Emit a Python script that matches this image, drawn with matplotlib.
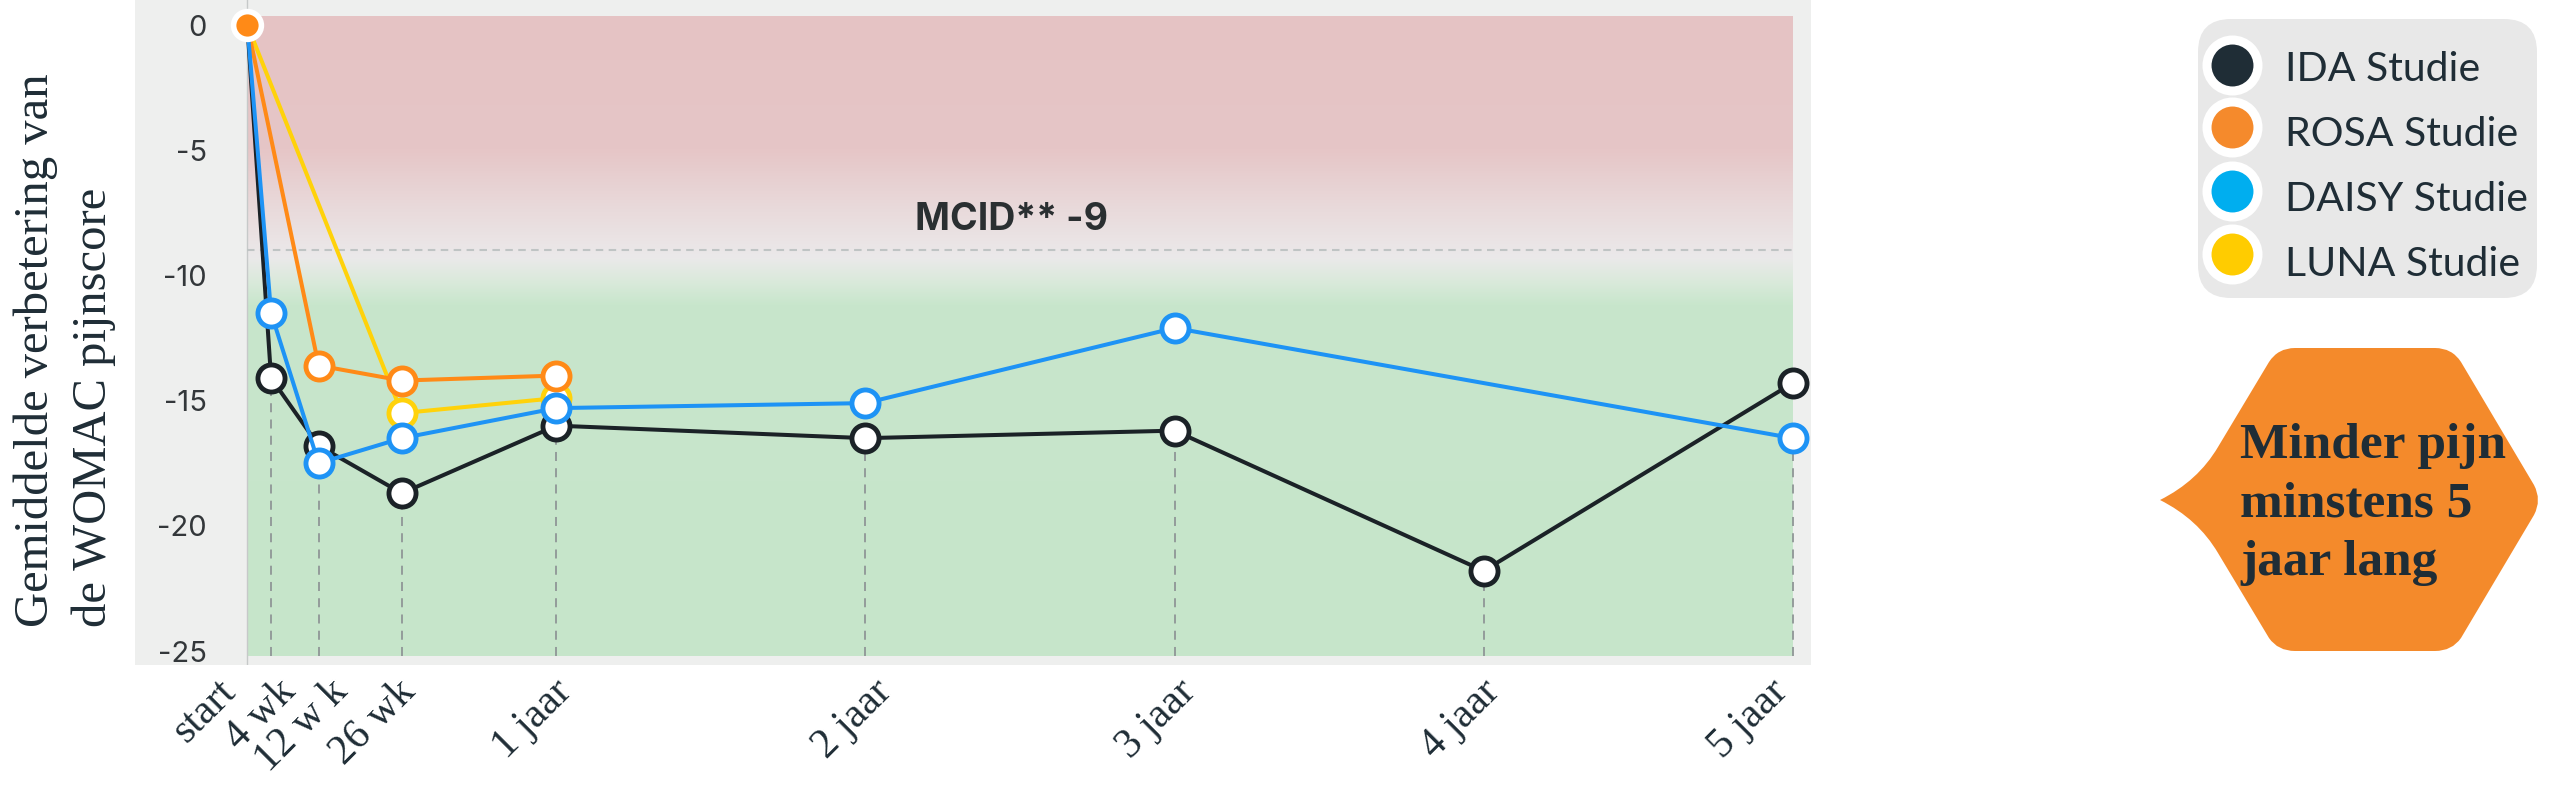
import numpy as np
import matplotlib
matplotlib.use("Agg")
import matplotlib.pyplot as plt
from matplotlib.patches import FancyBboxPatch, PathPatch
from matplotlib.path import Path
from matplotlib.colors import to_rgb
from matplotlib.transforms import ScaledTranslation

# ---------------- data ----------------
time_labels = ["start", "4 wk", "12 w k", "26 wk", "1 jaar", "2 jaar", "3 jaar", "4 jaar", "5 jaar"]
time_weeks = [0, 4, 12, 26, 52, 104, 156, 208, 260]

ida_weeks = [0, 4, 12, 26, 52, 104, 156, 208, 260]
ida_values = [0, -14.1, -16.8, -18.7, -16.0, -16.5, -16.2, -21.8, -14.3]
rosa_weeks = [0, 12, 26, 52]
rosa_values = [0, -13.6, -14.2, -14.0]
daisy_weeks = [0, 4, 12, 26, 52, 104, 156, 260]
daisy_values = [0, -11.5, -17.5, -16.5, -15.3, -15.1, -12.1, -16.5]
luna_weeks = [0, 26, 52]
luna_values = [0, -15.5, -14.9]

series_names = ["IDA Studie", "ROSA Studie", "DAISY Studie", "LUNA Studie"]
mcid_value = -9
y_ticks = [0, -5, -10, -15, -20, -25]
y_tick_labels = ["0", "-5", "-10", "-15", "-20", "-25"]
y_label = "Gemiddelde verbetering van\nde WOMAC pijnscore"
callout_text = "Minder pijn\nminstens 5\njaar lang"

# ---------------- styles ----------------
line_colors = ["#1b2227", "#ff8a17", "#1e93f5", "#ffd20a"]
legend_colors = ["#1f2d36", "#f58a2c", "#00aeef", "#ffcc00"]
text_dark = "#1f2d36"
panel_color = "#eeefee"
xlabel_shift_px = [-31, 5, 10, -6, -4, 7, 2, -3, -24]

W, H = 2557, 796
fig = plt.figure(figsize=(W / 100, H / 100), dpi=100)
fig.patch.set_facecolor("white")

# main axes (grey panel)
px_left, px_right, px_top, px_bottom = 135, 1811, 0, 665
ax = fig.add_axes([px_left / W, 1 - px_bottom / H, (px_right - px_left) / W, (px_bottom - px_top) / H])
ax.set_facecolor(panel_color)
for s in ax.spines.values():
    s.set_visible(False)

x0_px, px_per_wk = 247.3, 5.944
y0_px, px_per_unit = 25.0, 25.04
xlim = ((px_left - x0_px) / px_per_wk, (px_right - x0_px) / px_per_wk)
ylim = (-(px_bottom - y0_px) / px_per_unit, (y0_px - px_top) / px_per_unit)

# gradient background (red -> white -> green)
stops_v = [0.4, -5.0, -7.5, -9.3, -10.2, -11.2, -25.3]
stops_c = ["#e5c3c4", "#e6c6c7", "#e9dbdc", "#ebe9ea", "#dbeadc", "#c8e6cc", "#c6e5ca"]
top_v, bot_v = 0.32, -25.2
rows = np.linspace(top_v, bot_v, 800)
sv = np.array(stops_v[::-1])
sc = np.array([to_rgb(c) for c in stops_c[::-1]])
img = np.stack([np.interp(rows, sv, sc[:, k]) for k in range(3)], axis=-1)[:, None, :]
ax.imshow(img, extent=[time_weeks[0], time_weeks[-1], bot_v, top_v], aspect="auto",
          origin="upper", interpolation="bilinear", zorder=0)

# axis line at start
ax.axvline(time_weeks[0], color="#c6c9c9", lw=1.0, zorder=1)

# MCID line + label
ax.hlines(mcid_value, time_weeks[0], time_weeks[-1], colors="#bfc4c4", lw=1.5,
          linestyles=(0, (3.6, 2.6)), zorder=1)
ax.text(112.3, mcid_value + 0.81, f"MCID** {mcid_value}", family="Inter", fontweight="bold",
        fontsize=27, color="#2a2f31", ha="left", va="baseline", zorder=2)

series = [
    (ida_weeks, ida_values),
    (rosa_weeks, rosa_values),
    (daisy_weeks, daisy_values),
    (luna_weeks, luna_values),
]

# vertical dashed drop lines from lowest point at each time
for t in time_weeks[1:]:
    vals = [v for xs, ys in series for x, v in zip(xs, ys) if x == t]
    if vals:
        ax.vlines(t, bot_v, min(vals), colors="#8f9696", lw=1.3,
                  linestyles=(0, (5, 4)), zorder=1)

# lines (draw order: IDA, LUNA, ROSA, DAISY on top)
order = [0, 3, 1, 2]
for z, i in enumerate(order):
    xs, ys = series[i]
    ax.plot(xs, ys, color=line_colors[i], lw=2.9, marker="o", ms=19.5, mfc="white",
            mec=line_colors[i], mew=3.5, markevery=slice(1, None), zorder=3 + z,
            label=series_names[i], solid_joinstyle="round")
# start point
ax.plot(rosa_weeks[0], rosa_values[0], "o", ms=20, mfc=line_colors[1], mec="white",
        mew=4, zorder=10)

ax.set_xlim(*xlim)
ax.set_ylim(*ylim)

ax.set_yticks(y_ticks)
ax.set_yticklabels(y_tick_labels, family="Inter", fontsize=21, color="#33373a")
ax.tick_params(axis="y", length=0, pad=-(207 - px_left) * 0.72)

ax.set_xticks(time_weeks)
ax.set_xticklabels(time_labels, family="Liberation Serif", fontsize=30, color=text_dark,
                   rotation=45, ha="right", rotation_mode="anchor")
ax.tick_params(axis="x", length=0, pad=5)
for lab, dx in zip(ax.get_xticklabels(), xlabel_shift_px):
    lab.set_transform(lab.get_transform() + ScaledTranslation(dx / 100, 0, fig.dpi_scale_trans))

ax.set_ylabel(y_label, family="Liberation Serif", fontsize=35, color=text_dark,
              multialignment="left", linespacing=1.4)
ax.yaxis.set_label_coords((116 - px_left) / (px_right - px_left), (665 - 350) / 665)

# ---------------- overlay (legend + callout) ----------------
ov = fig.add_axes([0, 0, 1, 1], zorder=5)
ov.set_xlim(0, W)
ov.set_ylim(H, 0)
ov.axis("off")
ov.patch.set_alpha(0)

ov.add_patch(FancyBboxPatch((2198, 19), 339, 279, boxstyle="round,pad=0,rounding_size=33",
                            fc="#e8e8e8", ec="none"))
marker_y = [65, 127, 191, 254]
base_y = [81, 146, 211, 276]
for i in range(4):
    ov.plot([2232], [marker_y[i]], "o", ms=36.7, mfc=legend_colors[i], mec="white", mew=6.5)
    ov.text(2285, base_y[i], series_names[i], family="Lato", fontsize=29.5, color=text_dark,
            ha="left", va="baseline")

verts = [
    (2295, 348), (2435, 348),
    (2452, 348), (2461, 362),
    (2534, 485),
    (2542, 500), (2534, 515),
    (2461, 638),
    (2452, 651), (2435, 651),
    (2295, 651),
    (2278, 651), (2269, 638),
    (2218, 553),
    (2198, 519), (2160, 500),
    (2198, 481), (2218, 447),
    (2269, 362),
    (2278, 348), (2295, 348),
    (2295, 348),
]
codes = [Path.MOVETO, Path.LINETO,
         Path.CURVE3, Path.CURVE3,
         Path.LINETO,
         Path.CURVE3, Path.CURVE3,
         Path.LINETO,
         Path.CURVE3, Path.CURVE3,
         Path.LINETO,
         Path.CURVE3, Path.CURVE3,
         Path.LINETO,
         Path.CURVE3, Path.CURVE3,
         Path.CURVE3, Path.CURVE3,
         Path.LINETO,
         Path.CURVE3, Path.CURVE3,
         Path.CLOSEPOLY]
ov.add_patch(PathPatch(Path(verts, codes), fc="#f48a2b", ec="none"))
ov.text(2240, 575, callout_text, family="Liberation Serif", fontweight="bold", fontsize=37,
        color=text_dark, ha="left", va="baseline", linespacing=1.36)

fig.savefig("out.png", dpi=100)
